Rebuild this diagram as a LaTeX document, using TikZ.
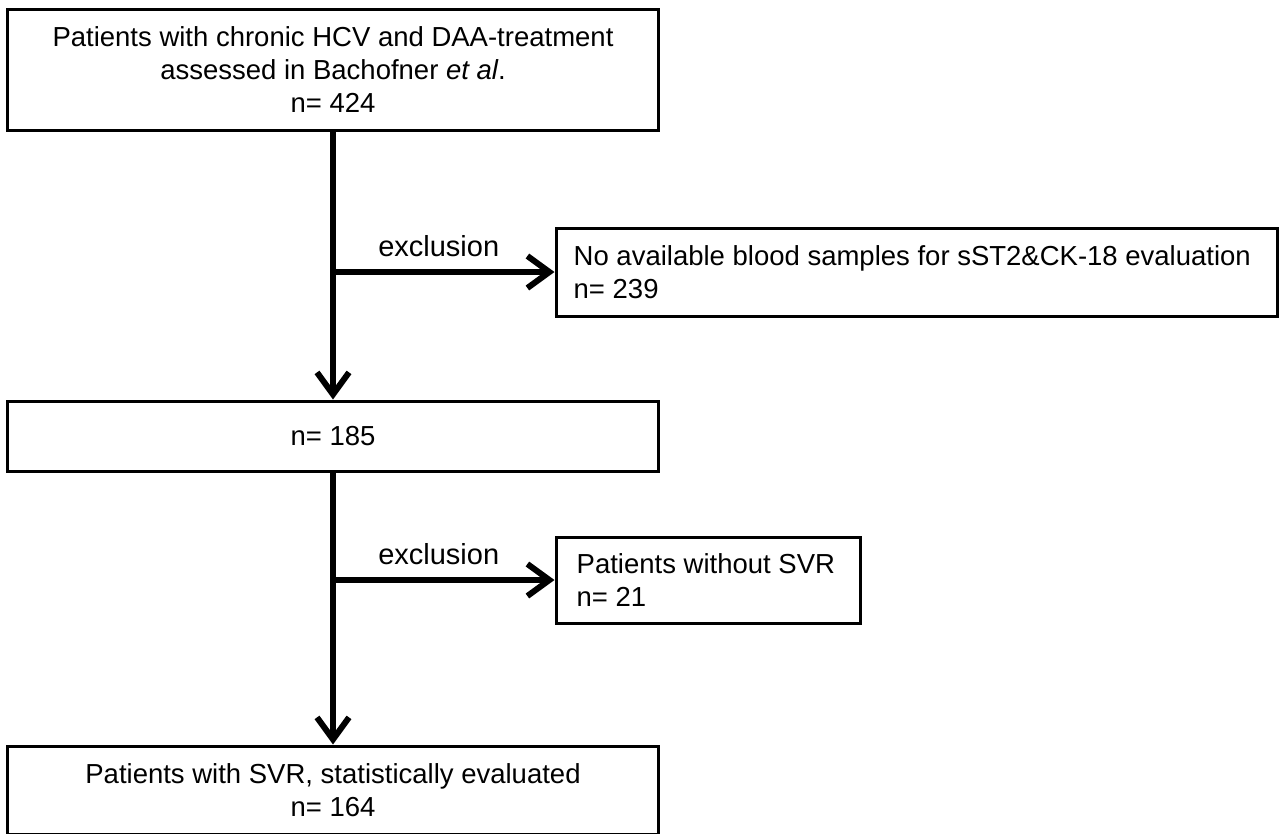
\documentclass[tikz,border=0pt]{standalone}
\usepackage{fontspec}
\setmainfont{Liberation Sans}
\usetikzlibrary{arrows.meta}
\begin{document}
\begin{tikzpicture}[x=1pt,y=-1pt,
  txt/.style={font=\fontsize{27.5}{33}\selectfont, inner sep=0pt},
  box/.style={draw, line width=3pt, inner sep=0pt, txt, align=center},
  flow/.style={line width=5.5pt, -{Straight Barb[length=22pt,width=32pt,line width=6pt]}},
  lbl/.style={txt, font=\fontsize{29}{34}\selectfont, above=12pt, xshift=-5pt}]
\useasboundingbox (0,0) rectangle (1284,833);
\node[box, minimum width=651pt, minimum height=121pt] (b1) at (333,69.5)
  {Patients with chronic HCV and DAA-treatment\\assessed in Bachofner \textit{et al}.\\n= 424};
\node[box, minimum width=651pt, minimum height=70pt] (b2) at (333,436) {n= 185};
\node[box, minimum width=651pt, minimum height=88pt] (b5) at (333,790)
  {Patients with SVR, statistically evaluated\\n= 164};
\node[box, minimum width=721pt, minimum height=88pt] (b3) at (916.5,272) {};
\node[txt, anchor=west, align=left] (t3) at ([xshift=19pt]b3.west)
  {No available blood samples for sST2\&CK-18 evaluation\\n= 239};
\node[box, minimum width=304pt, minimum height=86pt] (b4) at (708,580) {};
\node[txt, anchor=west, align=left] (t4) at ([xshift=22pt]b4.west)
  {Patients without SVR\\n= 21};
\coordinate (j1) at (333,272);
\coordinate (j2) at (333,580);
\draw[flow] (b1.south) -- (b2.north);
\draw[flow] (b2.south) -- (b5.north);
\draw[flow] (j1) -- node[lbl] (e1) {exclusion} (b3.west);
\draw[flow] (j2) -- node[lbl] (e2) {exclusion} (b4.west);
\end{tikzpicture}
\end{document}
